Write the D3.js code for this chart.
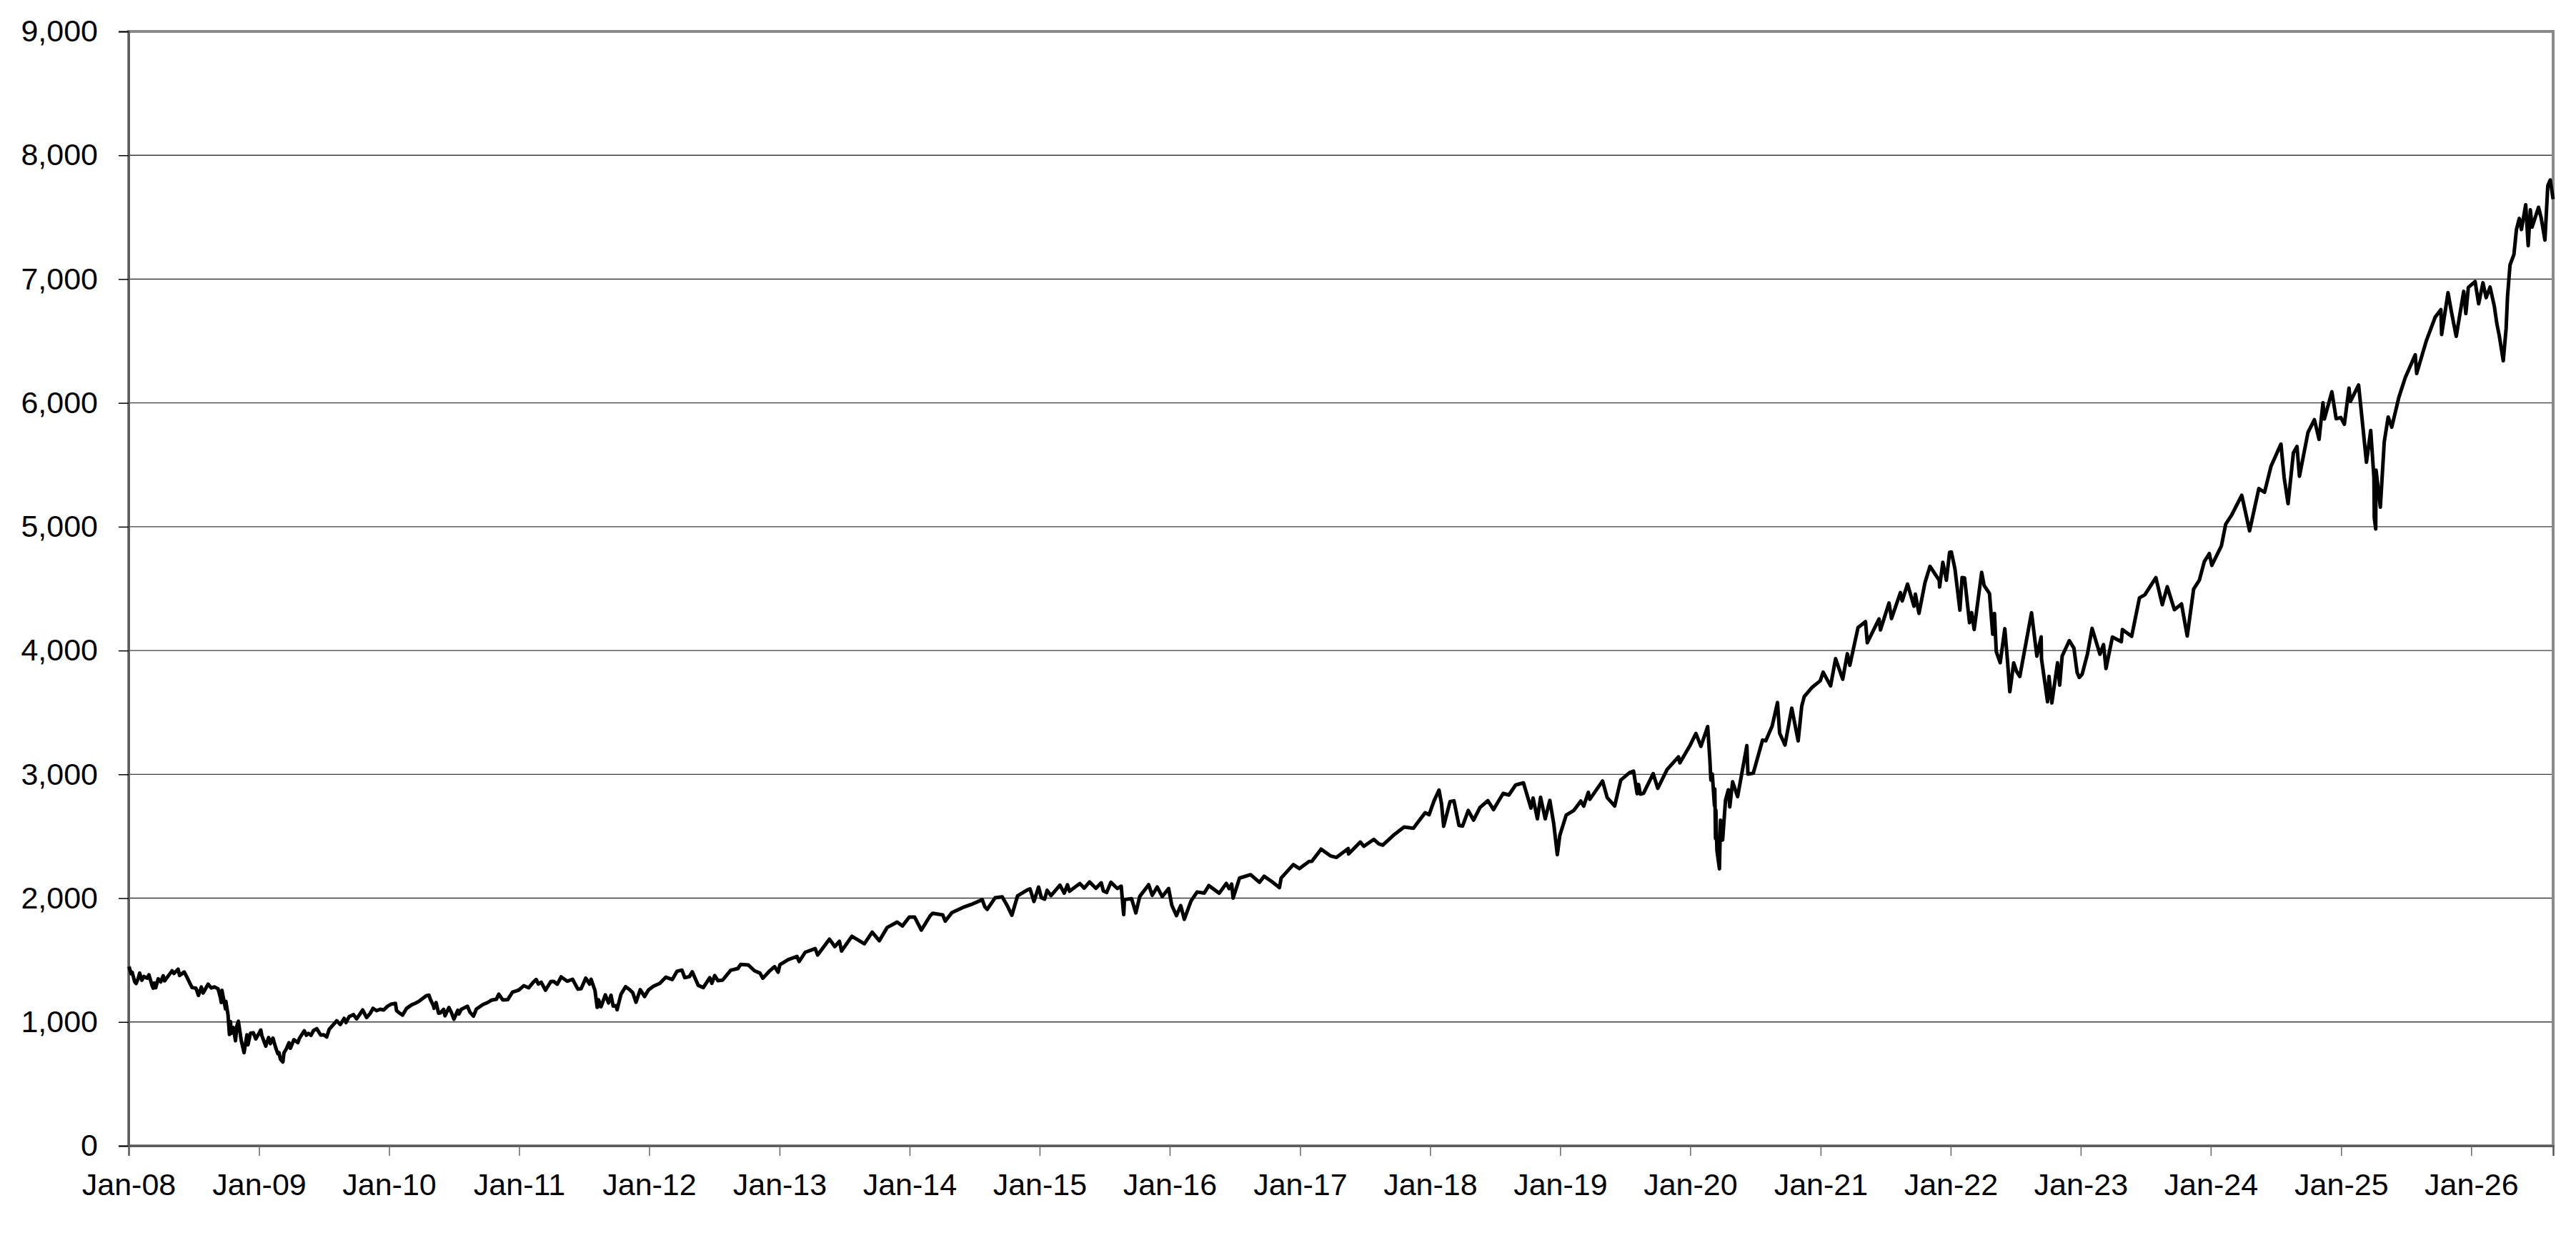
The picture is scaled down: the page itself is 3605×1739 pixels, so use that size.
<!DOCTYPE html>
<html>
<head>
<meta charset="utf-8">
<script src="https://cdn.jsdelivr.net/npm/d3@7"></script>
<style>
  html, body { margin: 0; padding: 0; background: #fff; }
  text { font-family: "Liberation Sans", Arial, sans-serif; }
</style>
</head>
<body>
<svg id="chart"></svg>
<script>
// index level (date, close)
const closes = [
  ["2008-01-02",1447],["2008-01-08",1390],["2008-01-11",1401],["2008-01-18",1325],["2008-01-22",1310],["2008-01-28",1353],
  ["2008-02-01",1395],["2008-02-07",1337],["2008-02-13",1367],["2008-02-22",1353],["2008-02-27",1381],["2008-03-07",1293],
  ["2008-03-10",1273],["2008-03-13",1315],["2008-03-17",1276],["2008-03-24",1349],["2008-03-31",1323],["2008-04-07",1373],
  ["2008-04-11",1332],["2008-04-23",1379],["2008-05-02",1413],["2008-05-07",1392],["2008-05-19",1426],["2008-05-23",1375],
  ["2008-06-05",1404],["2008-06-13",1360],["2008-06-20",1318],["2008-06-27",1278],["2008-07-08",1273],["2008-07-15",1214],
  ["2008-07-23",1282],["2008-07-28",1234],["2008-08-11",1305],["2008-08-20",1275],["2008-08-29",1283],["2008-09-08",1268],
  ["2008-09-15",1193],["2008-09-17",1157],["2008-09-19",1255],["2008-09-29",1106],["2008-09-30",1166],["2008-10-06",1057],
  ["2008-10-10",899],["2008-10-13",1003],["2008-10-15",908],["2008-10-21",955],["2008-10-27",848],["2008-10-31",968],
  ["2008-11-04",1006],["2008-11-12",852],["2008-11-20",752],["2008-11-28",896],["2008-12-01",816],["2008-12-08",909],
  ["2008-12-16",913],["2008-12-23",863],["2008-12-31",903],
  ["2009-01-06",935],["2009-01-09",890],["2009-01-20",805],["2009-01-22",827],["2009-01-28",874],["2009-02-02",825],
  ["2009-02-09",870],["2009-02-17",790],["2009-02-23",743],["2009-02-26",753],["2009-03-02",700],["2009-03-09",677],
  ["2009-03-12",751],["2009-03-19",785],["2009-03-26",832],["2009-03-30",788],["2009-04-09",857],["2009-04-20",833],
  ["2009-04-24",866],["2009-05-08",929],["2009-05-14",893],["2009-05-19",908],["2009-05-27",893],["2009-06-03",931],
  ["2009-06-12",946],["2009-06-23",895],["2009-07-02",896],["2009-07-10",879],["2009-07-17",941],["2009-07-31",987],
  ["2009-08-07",1010],["2009-08-17",979],["2009-08-28",1029],["2009-09-02",995],["2009-09-11",1043],["2009-09-23",1060],
  ["2009-10-02",1025],["2009-10-19",1097],["2009-10-30",1036],["2009-11-09",1069],["2009-11-17",1110],["2009-11-27",1091],
  ["2009-12-07",1103],["2009-12-17",1097],["2009-12-28",1128],
  ["2010-01-08",1145],["2010-01-19",1150],["2010-01-22",1092],["2010-01-29",1074],["2010-02-08",1056],["2010-02-19",1109],
  ["2010-03-05",1138],["2010-03-15",1150],["2010-03-26",1167],["2010-04-15",1211],["2010-04-23",1217],["2010-04-27",1183],
  ["2010-05-06",1128],["2010-05-07",1110],["2010-05-13",1157],["2010-05-20",1071],["2010-05-25",1074],["2010-06-03",1102],
  ["2010-06-07",1050],["2010-06-18",1117],["2010-06-25",1076],["2010-07-02",1022],["2010-07-13",1095],["2010-07-16",1065],
  ["2010-07-23",1103],["2010-08-09",1127],["2010-08-16",1079],["2010-08-26",1047],["2010-09-03",1104],["2010-09-21",1140],
  ["2010-10-06",1159],["2010-10-15",1176],["2010-10-29",1183],["2010-11-05",1225],["2010-11-16",1178],["2010-11-30",1180],
  ["2010-12-13",1240],["2010-12-31",1258],
  ["2011-01-14",1293],["2011-01-28",1276],["2011-02-10",1321],["2011-02-18",1343],["2011-02-24",1306],["2011-03-04",1321],
  ["2011-03-16",1257],["2011-03-31",1326],["2011-04-08",1328],["2011-04-18",1305],["2011-04-29",1364],["2011-05-16",1329],
  ["2011-05-31",1345],["2011-06-15",1265],["2011-06-24",1268],["2011-07-07",1354],["2011-07-18",1306],["2011-07-22",1345],
  ["2011-08-02",1254],["2011-08-08",1119],["2011-08-10",1121],["2011-08-12",1179],["2011-08-19",1123],["2011-08-31",1219],
  ["2011-09-09",1154],["2011-09-16",1216],["2011-09-22",1129],["2011-09-30",1131],["2011-10-03",1099],["2011-10-14",1225],
  ["2011-10-27",1285],["2011-11-07",1261],["2011-11-16",1236],["2011-11-25",1159],["2011-12-07",1261],["2011-12-19",1206],
  ["2011-12-30",1258],
  ["2012-01-13",1289],["2012-01-31",1312],["2012-02-17",1362],["2012-03-06",1343],["2012-03-19",1409],["2012-04-02",1419],
  ["2012-04-10",1358],["2012-04-23",1366],["2012-05-01",1405],["2012-05-18",1295],["2012-06-01",1278],["2012-06-19",1357],
  ["2012-06-25",1313],["2012-07-03",1375],["2012-07-12",1334],["2012-07-25",1338],["2012-08-17",1418],["2012-09-06",1432],
  ["2012-09-14",1465],["2012-10-05",1461],["2012-10-23",1413],["2012-11-07",1395],["2012-11-15",1353],["2012-12-03",1409],
  ["2012-12-18",1447],["2012-12-28",1402],
  ["2013-01-02",1462],["2013-01-25",1503],["2013-02-19",1530],["2013-02-25",1488],["2013-03-14",1563],["2013-04-11",1593],
  ["2013-04-18",1541],["2013-05-21",1669],["2013-06-05",1609],["2013-06-18",1652],["2013-06-24",1573],["2013-07-23",1692],
  ["2013-08-27",1631],["2013-09-18",1725],["2013-10-08",1656],["2013-10-30",1763],["2013-11-27",1807],["2013-12-12",1775],
  ["2013-12-31",1848],
  ["2014-01-15",1848],["2014-02-03",1742],["2014-02-28",1859],["2014-03-07",1878],["2014-04-04",1865],["2014-04-11",1815],
  ["2014-04-30",1884],["2014-05-30",1924],["2014-06-24",1950],["2014-07-24",1988],["2014-07-31",1931],["2014-08-07",1910],
  ["2014-08-29",2003],["2014-09-18",2011],["2014-10-01",1946],["2014-10-15",1862],["2014-10-31",2018],["2014-11-28",2068],
  ["2014-12-05",2075],["2014-12-16",1973],["2014-12-29",2090],
  ["2015-01-06",2003],["2015-01-15",1992],["2015-01-22",2063],["2015-02-02",2021],["2015-02-27",2105],["2015-03-11",2040],
  ["2015-03-20",2108],["2015-03-26",2056],["2015-04-24",2118],["2015-05-06",2081],["2015-05-21",2131],["2015-06-08",2080],
  ["2015-06-23",2124],["2015-06-29",2058],["2015-07-08",2046],["2015-07-20",2128],["2015-08-07",2078],["2015-08-18",2097],
  ["2015-08-24",1893],["2015-08-25",1867],["2015-08-27",1988],["2015-09-16",1996],["2015-09-28",1881],["2015-10-09",2014],
  ["2015-11-03",2109],["2015-11-13",2023],["2015-11-27",2090],["2015-12-11",2012],["2015-12-29",2078],
  ["2016-01-07",1943],["2016-01-20",1859],["2016-02-01",1940],["2016-02-11",1829],["2016-03-01",1978],["2016-03-18",2050],
  ["2016-04-07",2041],["2016-04-20",2102],["2016-05-19",2040],["2016-06-08",2119],["2016-06-16",2077],["2016-06-23",2113],
  ["2016-06-27",2000],["2016-07-15",2162],["2016-08-15",2190],["2016-09-09",2128],["2016-09-22",2177],["2016-10-14",2133],
  ["2016-11-04",2085],["2016-11-09",2163],["2016-12-13",2271],["2016-12-30",2239],
  ["2017-01-26",2296],["2017-02-03",2297],["2017-03-01",2396],["2017-03-27",2342],["2017-04-13",2329],["2017-05-16",2400],
  ["2017-05-17",2357],["2017-06-19",2453],["2017-06-29",2419],["2017-07-27",2475],["2017-08-10",2438],["2017-08-21",2428],
  ["2017-09-20",2508],["2017-10-20",2575],["2017-11-15",2565],["2017-12-18",2690],["2017-12-29",2674],
  ["2018-01-12",2786],["2018-01-26",2873],["2018-02-02",2762],["2018-02-08",2581],["2018-02-26",2780],["2018-03-09",2786],
  ["2018-03-23",2588],["2018-04-02",2582],["2018-04-18",2708],["2018-05-03",2630],["2018-05-21",2733],["2018-06-12",2787],
  ["2018-06-28",2716],["2018-07-25",2846],["2018-08-10",2833],["2018-08-29",2914],["2018-09-20",2931],["2018-10-11",2728],
  ["2018-10-17",2809],["2018-10-29",2641],["2018-11-07",2814],["2018-11-20",2641],["2018-12-03",2790],["2018-12-14",2600],
  ["2018-12-24",2351],["2018-12-31",2507],
  ["2019-01-18",2671],["2019-02-08",2708],["2019-02-28",2784],["2019-03-08",2743],["2019-03-21",2855],["2019-03-25",2798],
  ["2019-04-30",2946],["2019-05-13",2812],["2019-06-03",2744],["2019-06-20",2954],["2019-07-15",3014],["2019-07-26",3026],
  ["2019-08-05",2844],["2019-08-09",2919],["2019-08-14",2840],["2019-08-23",2847],["2019-09-19",3006],["2019-10-02",2887],
  ["2019-10-28",3039],["2019-11-29",3141],["2019-12-03",3093],["2019-12-31",3231],
  ["2020-01-17",3330],["2020-01-31",3226],["2020-02-19",3386],["2020-02-25",3128],["2020-02-28",2954],["2020-03-03",3003],
  ["2020-03-09",2747],["2020-03-10",2882],["2020-03-12",2481],["2020-03-13",2711],["2020-03-16",2386],["2020-03-23",2237],
  ["2020-03-26",2630],["2020-04-01",2470],["2020-04-09",2790],["2020-04-17",2875],["2020-04-21",2737],["2020-04-29",2940],
  ["2020-05-13",2820],["2020-06-08",3232],["2020-06-11",3002],["2020-06-26",3009],["2020-07-22",3277],["2020-07-31",3271],
  ["2020-08-18",3390],["2020-09-02",3580],["2020-09-08",3332],["2020-09-23",3237],["2020-10-12",3535],["2020-10-30",3270],
  ["2020-11-09",3551],["2020-11-16",3627],["2020-12-08",3702],["2020-12-31",3756],
  ["2021-01-08",3825],["2021-01-29",3714],["2021-02-12",3934],["2021-03-04",3768],["2021-03-17",3974],["2021-03-24",3881],
  ["2021-04-16",4185],["2021-05-07",4233],["2021-05-12",4063],["2021-06-14",4255],["2021-06-18",4166],["2021-07-12",4384],
  ["2021-07-19",4258],["2021-08-13",4468],["2021-08-18",4400],["2021-09-02",4537],["2021-09-20",4358],["2021-09-24",4455],
  ["2021-10-04",4300],["2021-10-21",4549],["2021-11-04",4680],["2021-11-30",4567],["2021-12-01",4513],["2021-12-10",4712],
  ["2021-12-20",4568],["2021-12-29",4793],
  ["2022-01-03",4796],["2022-01-13",4660],["2022-01-27",4326],["2022-02-02",4589],["2022-02-09",4587],["2022-02-23",4225],
  ["2022-03-01",4306],["2022-03-08",4170],["2022-03-29",4631],["2022-04-05",4525],["2022-04-20",4460],["2022-04-29",4132],
  ["2022-05-04",4300],["2022-05-09",3991],["2022-05-20",3901],["2022-06-02",4176],["2022-06-10",3901],["2022-06-16",3667],
  ["2022-06-27",3900],["2022-07-05",3831],["2022-07-14",3790],["2022-08-16",4305],["2022-08-31",3955],["2022-09-12",4110],
  ["2022-09-13",3932],["2022-09-30",3586],["2022-10-04",3791],["2022-10-12",3577],["2022-10-28",3901],["2022-11-03",3720],
  ["2022-11-10",3956],["2022-11-30",4080],["2022-12-13",4019],["2022-12-22",3822],["2022-12-28",3783],
  ["2023-01-05",3808],["2023-01-20",3973],["2023-02-02",4179],["2023-02-24",3970],["2023-03-06",4048],["2023-03-13",3855],
  ["2023-03-31",4109],["2023-04-25",4071],["2023-04-28",4169],["2023-05-24",4115],["2023-06-15",4426],["2023-06-30",4450],
  ["2023-07-31",4589],["2023-08-18",4370],["2023-09-01",4515],["2023-09-21",4330],["2023-10-11",4376],["2023-10-27",4117],
  ["2023-11-14",4496],["2023-11-30",4568],["2023-12-14",4719],["2023-12-28",4783],
  ["2024-01-04",4688],["2024-01-31",4846],["2024-02-12",5021],["2024-02-29",5096],["2024-03-28",5254],["2024-04-19",4967],
  ["2024-05-15",5308],["2024-05-31",5278],["2024-06-18",5487],["2024-07-16",5667],["2024-07-25",5399],["2024-08-05",5186],
  ["2024-08-20",5597],["2024-08-30",5648],["2024-09-06",5408],["2024-09-30",5762],["2024-10-18",5864],["2024-10-31",5705],
  ["2024-11-11",6001],["2024-11-15",5870],["2024-12-06",6090],["2024-12-18",5872],["2024-12-31",5882],
  ["2025-01-10",5827],["2025-01-23",6119],["2025-01-27",6012],["2025-02-19",6144],["2025-03-04",5778],["2025-03-13",5521],
  ["2025-03-25",5777],["2025-04-03",5397],["2025-04-04",5074],["2025-04-08",4982],["2025-04-09",5457],["2025-04-21",5158],
  ["2025-05-02",5686],["2025-05-13",5886],["2025-05-23",5803],["2025-06-12",6045],["2025-06-30",6205],["2025-07-28",6389],
  ["2025-08-01",6238],["2025-08-28",6501],["2025-09-22",6693],["2025-10-08",6753],["2025-10-10",6552],["2025-10-28",6890],
  ["2025-11-07",6728],["2025-11-20",6538],["2025-12-11",6901],["2025-12-17",6721],["2025-12-24",6932],
  ["2026-01-12",6980],["2026-01-22",6800],["2026-02-03",6970],["2026-02-12",6850],["2026-02-23",6935],["2026-03-07",6780],
  ["2026-03-14",6640],["2026-03-21",6540],["2026-04-01",6340],["2026-04-09",6600],["2026-04-13",6860],["2026-04-20",7115],
  ["2026-05-01",7200],["2026-05-08",7400],["2026-05-16",7490],["2026-05-22",7400],["2026-06-03",7600],["2026-06-10",7270],
  ["2026-06-16",7560],["2026-06-21",7420],["2026-07-09",7580],["2026-07-16",7500],["2026-07-27",7315],["2026-08-04",7755],
  ["2026-08-11",7800],["2026-08-19",7645]
];

const yTicks = [0, 1000, 2000, 3000, 4000, 5000, 6000, 7000, 8000, 9000];
const xTickYears = d3.range(2008, 2027);

const W = 3605, H = 1739;
const plotL = 180, plotR = 3573, plotT = 44, plotB = 1603;

const parse = d3.utcParse("%Y-%m-%d");
const data = closes.map(([d, v]) => ({ date: parse(d), value: v }));

const svg = d3.select("#chart").attr("width", W).attr("height", H);

const x = d3.scaleUtc()
  .domain([Date.UTC(2008, 0, 1), data[data.length - 1].date])
  .range([plotL, plotR]);
const y = d3.scaleLinear().domain([0, 9000]).range([plotB, plotT]);

// gridlines
svg.append("g")
  .selectAll("line")
  .data(yTicks.filter(t => t > 0 && t < 9000))
  .join("line")
  .attr("x1", plotL).attr("x2", plotR)
  .attr("y1", d => y(d)).attr("y2", d => y(d))
  .attr("stroke", "#3c3c3c").attr("stroke-width", 1.4);

// plot area border (top/right look lighter grey)
svg.append("rect")
  .attr("x", plotL).attr("y", plotT)
  .attr("width", plotR - plotL).attr("height", plotB - plotT)
  .attr("fill", "none").attr("stroke", "#8a8a8a").attr("stroke-width", 4);

// y axis
const yAxis = svg.append("g")
  .attr("transform", `translate(${plotL},0)`)
  .call(d3.axisLeft(y).tickValues(yTicks).tickSize(14).tickPadding(29)
    .tickFormat(d3.format(",")));
yAxis.select(".domain").attr("stroke", "#555").attr("stroke-width", 2.5);
yAxis.selectAll(".tick line").attr("stroke", "#000").attr("stroke-width", 1.5);
yAxis.selectAll("text").attr("font-size", 43).attr("fill", "#000")
  .attr("font-family", '"Liberation Sans", Arial, sans-serif');

// x axis
const xAxis = svg.append("g")
  .attr("transform", `translate(0,${plotB})`)
  .call(d3.axisBottom(x)
    .tickValues(xTickYears.map(yr => new Date(Date.UTC(yr, 0, 1))))
    .tickSize(14).tickPadding(24)
    .tickFormat(d3.utcFormat("Jan-%y")));
xAxis.select(".domain").attr("stroke", "#555").attr("stroke-width", 2.5);
xAxis.selectAll(".tick line").attr("stroke", "#666").attr("stroke-width", 1.5);
xAxis.selectAll("text").attr("font-size", 43).attr("fill", "#000")
  .attr("font-family", '"Liberation Sans", Arial, sans-serif');

// series
const line = d3.line()
  .x(d => x(d.date))
  .y(d => y(d.value));

svg.append("path")
  .datum(data)
  .attr("fill", "none")
  .attr("stroke", "#000")
  .attr("stroke-width", 5)
  .attr("stroke-linejoin", "round")
  .attr("d", line);
</script>
</body>
</html>
